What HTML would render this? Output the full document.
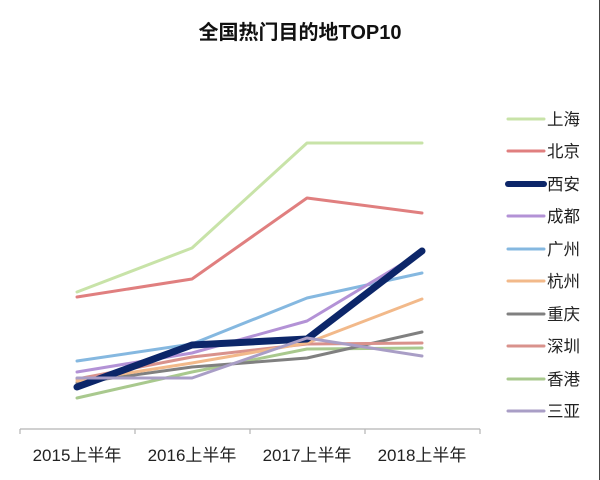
<!DOCTYPE html>
<html><head><meta charset="utf-8"><style>
html,body{margin:0;padding:0;background:#fff;}
svg{display:block;}
text{font-family:"Liberation Sans","Noto Sans CJK SC",sans-serif;}
</style></head><body>
<svg width="600" height="480" viewBox="0 0 600 480" xmlns="http://www.w3.org/2000/svg">
<rect width="600" height="480" fill="#fff"/>
<text x="300" y="39" text-anchor="middle" font-size="20" font-weight="bold" fill="#111">全国热门目的地TOP10</text>
<g fill="none" stroke-linejoin="round" stroke-linecap="round">
<polyline points="77,292 192,248 307,143 422,143" stroke="#c8e3a8" stroke-width="3"/>
<polyline points="77,297 192,279 307,198 422,213" stroke="#e07f7f" stroke-width="3"/>
<polyline points="77,398 192,372 307,349 422,348" stroke="#a9c98e" stroke-width="3"/>
<polyline points="77,383 192,367 307,358 422,332" stroke="#808080" stroke-width="3"/>
<polyline points="77,379 192,357 307,344 422,343" stroke="#d9928c" stroke-width="3"/>
<polyline points="77,381 192,363 307,343 422,299" stroke="#f2b98a" stroke-width="3"/>
<polyline points="77,361 192,344 307,298 422,273" stroke="#85b8e0" stroke-width="3"/>
<polyline points="77,372 192,353 307,321 422,252" stroke="#b392d6" stroke-width="3"/>
<polyline points="77,387 192,345 307,339 422,251" stroke="#0c2669" stroke-width="7"/>
<polyline points="77,378 192,378 307,338 422,356" stroke="#a99ec6" stroke-width="3"/>
</g>
<g stroke="#b5b5b5" stroke-width="1.2" fill="none">
<line x1="20" y1="429" x2="480" y2="429"/>
<line x1="20" y1="429" x2="20" y2="434"/>
<line x1="135" y1="429" x2="135" y2="434"/>
<line x1="250" y1="429" x2="250" y2="434"/>
<line x1="365" y1="429" x2="365" y2="434"/>
<line x1="480" y1="429" x2="480" y2="434"/>
</g>
<g font-size="17" fill="#222" text-anchor="middle">
<text x="77" y="461">2015上半年</text>
<text x="192" y="461">2016上半年</text>
<text x="307" y="461">2017上半年</text>
<text x="422" y="461">2018上半年</text>
</g>
<g stroke-linecap="round">
<line x1="508" y1="119" x2="544" y2="119" stroke="#c8e3a8" stroke-width="3"/>
<line x1="508" y1="151" x2="544" y2="151" stroke="#e07f7f" stroke-width="3"/>
<line x1="508" y1="184" x2="544" y2="184" stroke="#0c2669" stroke-width="6"/>
<line x1="508" y1="216" x2="544" y2="216" stroke="#b392d6" stroke-width="3"/>
<line x1="508" y1="249" x2="544" y2="249" stroke="#85b8e0" stroke-width="3"/>
<line x1="508" y1="281" x2="544" y2="281" stroke="#f2b98a" stroke-width="3"/>
<line x1="508" y1="314" x2="544" y2="314" stroke="#808080" stroke-width="3"/>
<line x1="508" y1="346" x2="544" y2="346" stroke="#d9928c" stroke-width="3"/>
<line x1="508" y1="379" x2="544" y2="379" stroke="#a9c98e" stroke-width="3"/>
<line x1="508" y1="411" x2="544" y2="411" stroke="#a99ec6" stroke-width="3"/>
</g>
<g font-size="16.5" fill="#222">
<text x="547" y="125">上海</text>
<text x="547" y="157">北京</text>
<text x="547" y="190">西安</text>
<text x="547" y="222">成都</text>
<text x="547" y="255">广州</text>
<text x="547" y="287">杭州</text>
<text x="547" y="320">重庆</text>
<text x="547" y="352">深圳</text>
<text x="547" y="385">香港</text>
<text x="547" y="417">三亚</text>
</g>
<line x1="599.5" y1="0" x2="599.5" y2="480" stroke="#444" stroke-width="1"/>
</svg>
</body></html>
